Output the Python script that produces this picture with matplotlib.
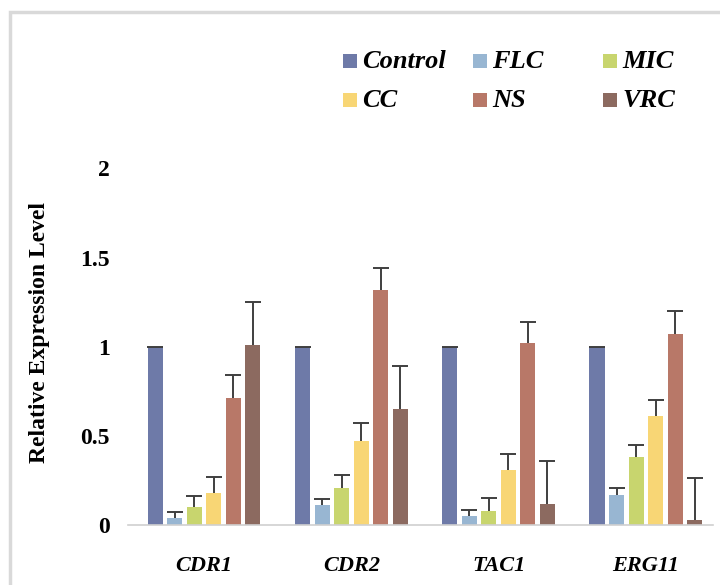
import numpy as np
import matplotlib.pyplot as plt
from matplotlib.patches import Rectangle

genes = ["CDR1", "CDR2", "TAC1", "ERG11"]
treatments = ["Control", "FLC", "MIC", "CC", "NS", "VRC"]
colors = ["#6E7AA8", "#98B6D2", "#C8D56E", "#F8D675", "#B87868", "#8C6A60"]

# mean relative expression, one list per treatment (CDR1, CDR2, TAC1, ERG11)
control = [1.0, 1.0, 1.0, 1.0]
flc = [0.04, 0.11, 0.05, 0.17]
mic = [0.10, 0.21, 0.08, 0.38]
cc = [0.18, 0.47, 0.31, 0.61]
ns = [0.71, 1.32, 1.02, 1.07]
vrc = [1.01, 0.65, 0.12, 0.03]

# upper error (SD)
control_err = [0.0, 0.0, 0.0, 0.0]
flc_err = [0.035, 0.035, 0.035, 0.036]
mic_err = [0.065, 0.07, 0.07, 0.068]
cc_err = [0.09, 0.10, 0.09, 0.09]
ns_err = [0.13, 0.12, 0.12, 0.13]
vrc_err = [0.24, 0.24, 0.24, 0.235]

values = [control, flc, mic, cc, ns, vrc]
errors = [control_err, flc_err, mic_err, cc_err, ns_err, vrc_err]

serif = ["Liberation Serif", "DejaVu Serif"]
W, H = 720, 585

fig = plt.figure(figsize=(7.2, 5.85), dpi=100)
fig.patches.append(Rectangle((10 / W, -0.1), 1.2, 1 - 12 / H + 0.1,
                             transform=fig.transFigure, fill=False,
                             edgecolor="#D9D9D9", linewidth=2.5))
ax = fig.add_axes([128 / W, 60 / H, 585 / W, 356.5 / H])

x = np.arange(len(genes))
step = 0.1327
width = 0.102
for i, (name, vals, errs, col) in enumerate(zip(treatments, values, errors, colors)):
    pos = x + (i - 2.5) * step
    ax.bar(pos, vals, width=width, color=col, label=name, zorder=2)
    _, caps, _ = ax.errorbar(pos, vals, yerr=[np.zeros(len(errs)), errs], fmt="none",
                             ecolor="#3F3F3F", elinewidth=1.4, capsize=6,
                             capthick=1.4, zorder=3)
    # only the upper cap, like Excel's "plus" error bars
    caps[0].set_visible(False)

ax.set_xlim(-0.517, 3.456)
ax.set_ylim(0, 2)
ax.set_yticks([0, 0.5, 1, 1.5, 2])
ax.set_yticklabels(["0", "0.5", "1", "1.5", "2"])
ax.set_xticks(x)
ax.set_xticklabels(genes)
for lab in ax.get_yticklabels():
    lab.set_fontfamily(serif)
    lab.set_fontweight("bold")
    lab.set_fontsize(17)
for lab in ax.get_xticklabels():
    lab.set_fontfamily(serif)
    lab.set_fontweight("bold")
    lab.set_fontstyle("italic")
    lab.set_fontsize(16)
ax.tick_params(axis="y", length=0, pad=13)
ax.tick_params(axis="x", length=0, pad=22)

for side in ["top", "right", "left"]:
    ax.spines[side].set_visible(False)
ax.spines["bottom"].set_color("#D0D0D0")
ax.spines["bottom"].set_linewidth(1.2)

ax.set_ylabel("Relative Expression Level", fontfamily=serif, fontweight="bold",
              fontsize=17)
ax.yaxis.set_label_coords(-0.133, 0.539)

# legend: 3 columns x 2 rows, laid out like the Excel original
leg_cols = [343, 473, 603]
leg_rows = [61, 100]
sq = 14
for i, (name, col) in enumerate(zip(treatments, colors)):
    r, c = divmod(i, 3)
    lx, ly = leg_cols[c], leg_rows[r]
    fig.patches.append(Rectangle((lx / W, 1 - (ly + sq / 2) / H), sq / W, sq / H,
                                 transform=fig.transFigure, facecolor=col,
                                 edgecolor="none"))
    fig.text((lx + sq + 5) / W, 1 - ly / H, name, ha="left", va="center",
             fontfamily=serif, fontweight="bold", fontstyle="italic", fontsize=19)

fig.savefig("out.png", dpi=100)
